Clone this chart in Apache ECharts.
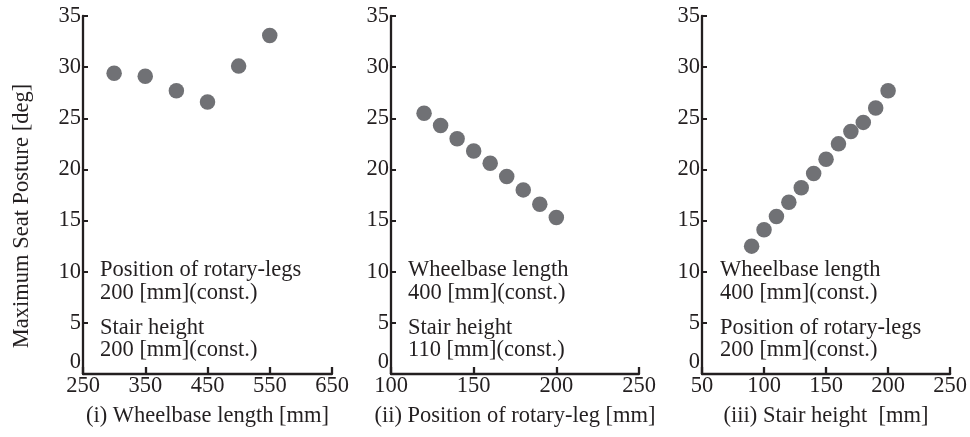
<!DOCTYPE html>
<html>
<head>
<meta charset="utf-8">
<script src="https://cdn.jsdelivr.net/npm/echarts@6/dist/echarts.min.js"></script>
<style>
  html, body { margin: 0; padding: 0; background: #fff; }
  #chart { width: 970px; height: 437px; }
</style>
</head>
<body>
<div id="chart"></div>
<script>
// (i) wheelbase length sweep
const wheelbase = [300, 350, 400, 450, 500, 550]
const postureByWheelbase = [29.4, 29.1, 27.7, 26.6, 30.1, 33.1]
// (ii) rotary-leg position sweep
const legPosition = [120, 130, 140, 150, 160, 170, 180, 190, 200]
const postureByLegPosition = [25.5, 24.3, 23.0, 21.8, 20.6, 19.3, 18.0, 16.6, 15.3]
// (iii) stair height sweep
const stairHeight = [90, 100, 110, 120, 130, 140, 150, 160, 170, 180, 190, 200]
const postureByStairHeight = [12.5, 14.1, 15.4, 16.8, 18.2, 19.6, 21.0, 22.5, 23.7, 24.6, 26.0, 27.7]

const xTicks = [
  [250, 350, 450, 550, 650],
  [100, 150, 200, 250],
  [50, 100, 150, 200, 250]
]
const yTicks = [0, 5, 10, 15, 20, 25, 30, 35]
const xTitles = [
  '(i) Wheelbase length [mm]',
  '(ii) Position of rotary-leg [mm]',
  '(iii) Stair height  [mm]'
]
const yTitle = 'Maximum Seat Posture [deg]'
const notes = [
  ['Position of rotary-legs', '200 [mm](const.)', 'Stair height', '200 [mm](const.)'],
  ['Wheelbase length', '400 [mm](const.)', 'Stair height', '110 [mm](const.)'],
  ['Wheelbase length', '400 [mm](const.)', 'Position of rotary-legs', '200 [mm](const.)']
]

const ink = '#231f20'
const dot = '#707175'
const font = 'Liberation Serif'

const grids = [
  { left : 83, top : 16, width : 249, height : 358 },
  { left : 391, top : 16, width : 248, height : 358 },
  { left : 702, top : 16, width : 249, height : 358 }
]

const chart = echarts.init( document.getElementById( 'chart' ) )

const xAxes = xTicks.map( ( ticks, i ) => ( {
  type : 'value',
  gridIndex : i,
  min : ticks[0],
  max : ticks[ticks.length - 1],
  name : xTitles[i],
  nameLocation : 'middle',
  nameGap : 31,
  nameTextStyle : { fontFamily : font, fontSize : 22.5, color : ink },
  splitLine : { show : false },
  axisLine : { show : true, onZero : false, lineStyle : { color : ink, width : 2.3 }},
  axisTick : { show : true, inside : true, length : 7, customValues : ticks, lineStyle : { color : ink, width : 2.3 }},
  axisLabel : { customValues : ticks, margin : 1, fontFamily : font, fontSize : 22.5, color : ink }
} ) )

const yAxes = grids.map( ( g, i ) => ( {
  type : 'value',
  gridIndex : i,
  min : 0,
  max : 35,
  interval : 5,
  splitLine : { show : false },
  axisLine : { show : true, onZero : false, lineStyle : { color : ink, width : 2.3 }},
  axisTick : { show : true, inside : true, length : 5, customValues : yTicks, lineStyle : { color : ink, width : 2 }},
  axisLabel : { customValues : yTicks, margin : 2, verticalAlignMinLabel : 'bottom', fontFamily : font, fontSize : 22.5, color : ink }
} ) )

const seriesData = [
  [wheelbase, postureByWheelbase],
  [legPosition, postureByLegPosition],
  [stairHeight, postureByStairHeight]
]

const series = seriesData.map( ( [xs, ys], i ) => ( {
  type : 'scatter',
  xAxisIndex : i,
  yAxisIndex : i,
  symbolSize : 15.5,
  itemStyle : { color : dot, opacity : 1 },
  data : xs.map( ( x, k ) => [x, ys[k]] )
} ) )

const noteOffsets = [17, 17, 18]
const noteRows = [270, 293, 328, 350]
const graphic = [
  {
    type : 'text',
    x : 22,
    y : 216,
    rotation : Math.PI / 2,
    style : { text : yTitle, fontFamily : font, fontSize : 22.5, fill : ink, align : 'center', verticalAlign : 'middle' }
  }
]
notes.forEach( ( lines, i ) => {
  lines.forEach( ( line, k ) => {
    graphic.push( {
      type : 'text',
      x : grids[i].left + noteOffsets[i],
      y : noteRows[k],
      style : { text : line, fontFamily : font, fontSize : 22.5, fill : ink, align : 'left', verticalAlign : 'middle' }
    } )
  } )
} )

chart.setOption( {
  animation : false,
  backgroundColor : '#fff',
  grid : grids,
  xAxis : xAxes,
  yAxis : yAxes,
  series,
  graphic
} )
</script>
</body>
</html>
